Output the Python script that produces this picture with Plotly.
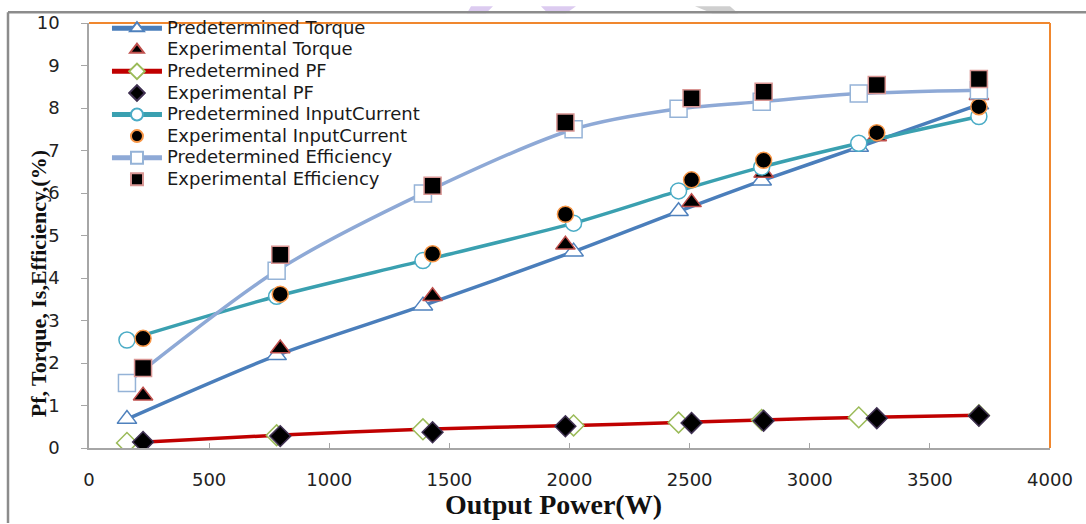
import plotly.graph_objects as go

# ---- data ----
x_pred = [158, 781, 1390, 2017, 2454, 2800, 3204, 3704]
x_exp = [225, 796, 1430, 1983, 2508, 2808, 3279, 3704]

torque_pred = [0.68, 2.18, 3.35, 4.62, 5.57, 6.29, 7.08, 8.08]
torque_exp = [1.23, 2.34, 3.57, 4.78, 5.78, 6.47, 7.33, 8.30]

pf_pred = [0.12, 0.30, 0.44, 0.53, 0.60, 0.66, 0.72, 0.77]
pf_exp = [0.14, 0.28, 0.37, 0.51, 0.59, 0.64, 0.70, 0.76]

cur_pred = [2.54, 3.57, 4.41, 5.29, 6.05, 6.61, 7.17, 7.80]
cur_exp = [2.58, 3.62, 4.57, 5.50, 6.31, 6.77, 7.42, 8.03]

eff_pred = [1.53, 4.17, 5.99, 7.50, 7.98, 8.15, 8.34, 8.42]
eff_exp = [1.88, 4.55, 6.17, 7.66, 8.23, 8.38, 8.54, 8.68]

x_ticks = [0, 500, 1000, 1500, 2000, 2500, 3000, 3500, 4000]
y_ticks = [0, 1, 2, 3, 4, 5, 6, 7, 8, 9, 10]

FONT = "DejaVu Sans"

fig = go.Figure()


def lg(name):
    return '<span style="font-size:18px">' + name + '</span>'


def pred(name, y, line_color, symbol, mcolor, size):
    fig.add_trace(go.Scatter(
        x=x_pred, y=y, name=lg(name), mode="lines+markers",
        line=dict(color=line_color, width=3.5, shape="spline", smoothing=0.8),
        marker=dict(symbol=symbol, size=size, color="white",
                    line=dict(color=mcolor, width=1.5)),
    ))


def expt(name, y, symbol, outline, size):
    fig.add_trace(go.Scatter(
        x=x_exp, y=y, name=lg(name), mode="markers",
        marker=dict(symbol=symbol, size=size, color="black",
                    line=dict(color=outline, width=1.5)),
    ))


pred("Predetermined Torque", torque_pred, "#4A7EBB", "triangle-up", "#4F81BD", 17)
expt("Experimental Torque", torque_exp, "triangle-up", "#C0504D", 17)
pred("Predetermined PF", pf_pred, "#C00000", "diamond", "#9BBB59", 16)
expt("Experimental PF", pf_exp, "diamond", "#403152", 16)
pred("Predetermined InputCurrent", cur_pred, "#3AA0B0", "circle", "#4BACC6", 16)
expt("Experimental InputCurrent", cur_exp, "circle", "#F79646", 16)
pred("Predetermined Efficiency", eff_pred, "#8EA9D6", "square", "#95B3D7", 17)
expt("Experimental Efficiency", eff_exp, "square", "#D99694", 17)

fig.update_layout(
    width=1086, height=524,
    margin=dict(l=89, r=36, t=17, b=76),
    paper_bgcolor="white", plot_bgcolor="white",
    showlegend=True,
    legend=dict(x=0.0187, y=1.025, xanchor="left", yanchor="top",
                bgcolor="rgba(255,255,255,0)", borderwidth=0,
                font=dict(family=FONT, size=14.3, color="#1a1a1a"),
                tracegroupgap=0, itemwidth=50, itemsizing="constant"),
    font=dict(family=FONT, color="#222222"),
)

fig.update_xaxes(
    range=[0, 4000], tickvals=x_ticks, ticktext=[str(v) for v in x_ticks],
    showgrid=False, zeroline=False,
    showline=True, linecolor="#A6A6A6", linewidth=1.5,
    ticks="inside", ticklen=5, tickcolor="#A6A6A6",
    tickfont=dict(family=FONT, size=18, color="#222222"),
    ticklabelstandoff=15,
)
fig.update_yaxes(
    range=[0, 10], tickvals=y_ticks, ticktext=[str(v) for v in y_ticks],
    showgrid=False, zeroline=False,
    showline=True, linecolor="#A6A6A6", linewidth=1.5,
    ticks="outside", ticklen=6, tickcolor="#A6A6A6",
    tickfont=dict(family=FONT, size=18, color="#222222"),
    ticklabelstandoff=18,
)


def px(v):
    return (v - 89) / 961.0


def py(v):
    return (448 - v) / 431.0


# faint watermark strokes at the top edge
for pts, col in [
    ([(471, 0), (493, 0), (486, 7), (467, 7)], "#DCCBF0"),
    ([(541, 0), (576, 0), (566, 7), (548, 7)], "#DCCBF0"),
    ([(695, 0), (730, 0), (738, 7), (712, 7)], "#CFCFCF"),
]:
    path = "M " + " L ".join(f"{px(a):.4f},{py(b):.4f}" for a, b in pts) + " Z"
    fig.add_shape(type="path", xref="paper", yref="paper", path=path,
                  fillcolor=col, line=dict(width=0), layer="below")

# orange top/right border of the plot area, grey outer frame
fig.add_shape(type="line", xref="paper", yref="paper", x0=0, x1=1, y0=1, y1=1,
              line=dict(color="#F0872E", width=2))
fig.add_shape(type="line", xref="paper", yref="paper", x0=1, x1=1, y0=0, y1=1,
              line=dict(color="#F0872E", width=2))
fig.add_shape(type="line", xref="paper", yref="paper", x0=px(8), x1=px(1086), y0=py(6), y1=py(6),
              line=dict(color="#8C8C8C", width=2.5))
fig.add_shape(type="line", xref="paper", yref="paper", x0=px(8), x1=px(8), y0=py(524), y1=py(6),
              line=dict(color="#8C8C8C", width=2.5))

fig.add_annotation(text="<b>Output Power(W)</b>", xref="paper", yref="paper",
                   x=px(553), y=py(505), xanchor="center", yanchor="middle", showarrow=False,
                   font=dict(family="Liberation Serif", size=28, color="#111111"))
fig.add_annotation(text="<b>Pf, Torque, Is,Efficiency,(%)</b>", xref="paper", yref="paper",
                   x=px(38), y=py(282), xanchor="center", yanchor="middle", showarrow=False,
                   textangle=-90,
                   font=dict(family="Liberation Serif", size=22, color="#111111"))

fig.write_html("out.html")
